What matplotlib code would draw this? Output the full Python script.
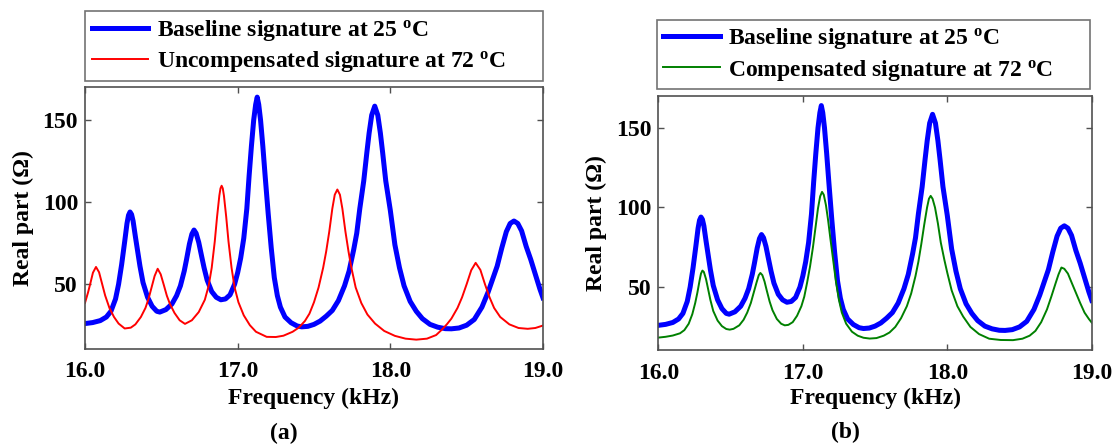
import matplotlib
matplotlib.use("Agg")
import matplotlib.pyplot as plt

plt.rcParams["font.family"] = "Liberation Serif"
plt.rcParams["font.weight"] = "bold"
plt.rcParams["mathtext.fontset"] = "custom"
plt.rcParams["mathtext.rm"] = "Liberation Serif:bold"
plt.rcParams["mathtext.bf"] = "Liberation Serif:bold"
plt.rcParams["mathtext.it"] = "Liberation Serif:bold"

# Baseline signature at 25 C (kHz, Ohm)
freq_base = [16.00, 16.05, 16.10, 16.14, 16.17, 16.20, 16.22, 16.24, 16.26, 16.275, 16.285,
             16.295, 16.305, 16.315, 16.33, 16.345, 16.36, 16.38, 16.41, 16.44, 16.47, 16.49,
             16.53, 16.57, 16.60, 16.625, 16.65, 16.665, 16.684, 16.70, 16.714, 16.728, 16.745,
             16.764, 16.78, 16.80, 16.83, 16.86, 16.89,
             16.92, 16.95, 16.98, 17.00, 17.02, 17.04, 17.06, 17.075, 17.09, 17.105, 17.118,
             17.128, 17.138, 17.15, 17.165, 17.18, 17.20, 17.22, 17.24, 17.26, 17.28, 17.31,
             17.35, 17.39, 17.42,
             17.46, 17.50, 17.54, 17.58, 17.62, 17.66, 17.70, 17.73, 17.76, 17.78, 17.80,
             17.826, 17.846, 17.861, 17.878, 17.898, 17.918, 17.935, 17.95, 17.97, 18.00, 18.03,
             18.06, 18.09, 18.13, 18.17, 18.21, 18.26, 18.31, 18.36, 18.40,
             18.45, 18.50, 18.55, 18.60, 18.64, 18.67, 18.70, 18.73, 18.76, 18.785, 18.81,
             18.835, 18.86, 18.89, 18.92, 18.95, 18.98, 19.00]
z_base = [26.0, 26.6, 27.8, 30.0, 33.5, 41.0, 50.0, 62.0, 76.0, 87.0, 92.0,
          94.0, 92.5, 88.5, 79.0, 70.0, 61.0, 51.0, 42.0, 36.5, 33.5, 33.0,
          34.5, 38.0, 43.0, 49.0, 58.0, 65.0, 74.5, 80.5, 83.0, 81.0, 75.5,
          67.0, 60.0, 52.5, 45.5, 42.0, 40.5,
          41.0, 43.5, 50.0, 57.0, 66.0, 78.0, 96.0, 116.0, 134.0, 150.0, 159.5,
          164.0, 159.5, 150.0, 134.0, 116.0, 93.0, 72.0, 54.0, 43.0, 36.0, 30.0,
          26.5, 24.5, 24.0,
          24.3, 25.5, 27.5, 30.5, 34.0, 40.0, 49.0, 58.0, 71.0, 81.0, 96.0,
          113.0, 130.0, 142.0, 153.0, 158.5, 153.0, 142.0, 130.0, 113.0, 95.0, 74.0,
          60.0, 49.0, 39.5, 33.5, 29.0, 25.5, 23.8, 22.9, 22.8,
          23.3, 25.0, 28.5, 36.0, 45.0, 53.0, 61.0, 72.0, 82.0, 87.0, 88.5,
          87.0, 82.5, 73.0, 65.0, 56.0, 47.0, 41.7]

# Uncompensated signature at 72 C
freq_uncomp = [16.00, 16.02, 16.035, 16.052, 16.072, 16.092, 16.112, 16.132, 16.16, 16.19,
               16.22, 16.26, 16.30, 16.33, 16.366, 16.396, 16.416, 16.436, 16.456, 16.476,
               16.496, 16.516, 16.536, 16.556, 16.586, 16.62, 16.655, 16.70, 16.745, 16.785,
               16.81, 16.83, 16.85, 16.865, 16.88, 16.8875, 16.895, 16.9025, 16.91, 16.925,
               16.94, 16.96, 16.98, 17.005, 17.04, 17.08, 17.12, 17.19, 17.25, 17.30,
               17.36, 17.40, 17.44, 17.47, 17.50, 17.53, 17.56, 17.58, 17.60, 17.62,
               17.636, 17.653, 17.67, 17.686, 17.706, 17.726, 17.745, 17.773, 17.81, 17.85,
               17.90, 17.96, 18.03, 18.10, 18.17, 18.24, 18.30, 18.34, 18.37, 18.40,
               18.44, 18.47, 18.50, 18.53, 18.559, 18.59, 18.62, 18.65, 18.68, 18.72,
               18.78, 18.84, 18.90, 18.95, 19.00]
z_uncomp = [38.6, 45.0, 50.5, 57.0, 60.5, 57.3, 50.2, 43.1, 35.5, 30.0,
            26.0, 23.0, 23.5, 25.5, 30.0, 35.5, 41.0, 48.0, 55.0, 59.4,
            56.0, 49.6, 43.0, 38.0, 32.5, 28.0, 25.8, 28.0, 33.0, 40.5,
            49.0, 60.0, 76.0, 91.0, 104.0, 108.4, 110.0, 108.4, 104.0, 91.0,
            76.0, 60.0, 48.0, 39.0, 31.0, 25.0, 21.0, 17.9, 17.8, 18.6,
            21.0, 23.5, 27.5, 32.0, 39.0, 48.0, 60.0, 70.0, 82.0, 96.0,
            104.5, 107.7, 104.5, 96.0, 82.0, 70.0, 60.0, 48.0, 38.5, 31.5,
            26.0, 21.5, 18.5, 16.8, 16.2, 16.8, 19.0, 22.5, 25.5, 29.0,
            35.5, 42.0, 50.0, 58.5, 63.0, 58.7, 50.0, 42.0, 35.5, 30.0,
            25.5, 23.3, 22.8, 23.3, 24.8]

# Compensated signature at 72 C
freq_comp = [16.00, 16.05, 16.10, 16.15, 16.18, 16.21, 16.235, 16.255, 16.27, 16.285,
             16.295, 16.305, 16.315, 16.33, 16.345, 16.36, 16.38, 16.41, 16.44, 16.47,
             16.494, 16.52, 16.56, 16.59, 16.615, 16.64, 16.66, 16.68, 16.695, 16.706,
             16.72, 16.735, 16.75, 16.77, 16.79, 16.82, 16.85, 16.875, 16.90, 16.93,
             16.96, 16.99, 17.01, 17.03, 17.05, 17.07, 17.09, 17.105, 17.12, 17.133,
             17.145, 17.16, 17.175, 17.19, 17.21, 17.23, 17.25, 17.27, 17.30, 17.34,
             17.38, 17.42, 17.463, 17.51, 17.56, 17.60, 17.64, 17.68, 17.72, 17.75,
             17.78, 17.80, 17.82, 17.84, 17.86, 17.873, 17.885, 17.898, 17.915, 17.935,
             17.955, 17.98, 18.00, 18.03, 18.07, 18.11, 18.16, 18.22, 18.29, 18.37,
             18.455, 18.52, 18.57, 18.61, 18.65, 18.69, 18.72, 18.75, 18.77, 18.79,
             18.81, 18.835, 18.86, 18.89, 18.92, 18.95, 18.98, 19.00]
z_comp = [18.3, 18.8, 19.6, 21.0, 23.0, 27.0, 33.0, 40.0, 46.5, 54.0,
          58.5, 60.4, 59.5, 55.0, 48.5, 42.0, 35.0, 29.0, 25.5, 23.7,
          23.3, 23.8, 26.0, 29.5, 34.0, 40.0, 46.5, 53.0, 57.5, 58.9,
          57.5, 53.5, 48.0, 41.0, 35.5, 30.0, 27.0, 26.0, 26.3, 28.0,
          32.0, 38.0, 44.0, 53.0, 63.0, 75.0, 89.0, 99.5, 107.0, 109.8,
          108.0, 101.5, 92.0, 81.0, 67.0, 53.0, 42.0, 34.0, 27.0, 22.0,
          19.5, 18.2, 17.7, 18.0, 19.5, 21.5, 25.0, 30.5, 38.0, 46.0,
          57.0, 66.0, 77.0, 89.0, 100.0, 105.5, 107.3, 105.5, 100.0, 90.0,
          78.0, 67.0, 59.0, 48.0, 38.0, 31.5, 25.0, 20.5, 17.6, 16.8,
          16.7, 17.6, 19.5, 22.5, 28.0, 36.0, 44.0, 52.5, 58.0, 62.3,
          61.5, 58.5, 53.0, 46.5, 40.0, 34.0, 30.0, 27.7]

x_ticks = [16.0, 17.0, 18.0, 19.0]
y_ticks = [50, 100, 150]

FS = 17
EDGE = "#505050"
DEG = r"$^{\rm o}$C"


def style_axes(ax):
    ax.set_xlim(16.0, 19.0)
    ax.set_ylim(10.5, 170)
    ax.set_xticks(x_ticks)
    ax.set_xticklabels([f"{t:.1f}" for t in x_ticks])
    ax.set_yticks(y_ticks)
    ax.tick_params(direction="in", length=4, width=1, colors=EDGE, labelcolor="black",
                   labelsize=FS, top=True, right=True)
    ax.tick_params(axis="x", pad=9)
    ax.tick_params(axis="y", pad=5)
    for s in ax.spines.values():
        s.set_color(EDGE)
        s.set_linewidth(1.2)
    ax.set_xlabel("Frequency (kHz)", fontsize=FS, fontweight="bold")
    ax.set_ylabel("Real part (\u03a9)", fontsize=FS, fontweight="bold")
    ax.xaxis.label.set_va("center")
    ax.yaxis.label.set_va("center")
    ax.yaxis.label.set_ha("center")


def add_legend(fig, handles, labels, box):
    leg = fig.legend(handles, labels, loc="lower left", bbox_to_anchor=box,
                     bbox_transform=fig.transFigure, mode="expand", ncol=1,
                     fontsize=FS, frameon=True, fancybox=False, borderpad=0.28,
                     labelspacing=0.27, handlelength=2.4, handletextpad=0.35,
                     borderaxespad=0.0)
    leg.get_frame().set_edgecolor(EDGE)
    leg.get_frame().set_linewidth(1.2)
    for t in leg.get_texts():
        t.set_fontweight("bold")
    return leg


fig = plt.figure(figsize=(11.17, 4.46), dpi=100)

# (a) baseline vs uncompensated
ax1 = fig.add_axes([0.0761, 0.2175, 0.4100, 0.5868])
b1, = ax1.plot(freq_base, z_base, color="#0000ff", lw=3.6, solid_joinstyle="round")
r1, = ax1.plot(freq_uncomp, z_uncomp, color="#ff0000", lw=1.4, solid_joinstyle="round")
style_axes(ax1)
ax1.xaxis.set_label_coords(0.5, -49 / 261.7)
ax1.yaxis.set_label_coords(-62 / 458, 0.5)
add_legend(fig, [b1, r1],
           ["Baseline signature at 25 " + DEG, "Uncompensated signature at 72 " + DEG],
           (0.0761, 0.8184, 0.4100, 0.1592))
fig.text(284 / 1117, 1 - 433 / 446, "(a)", ha="center", va="center",
         fontsize=FS, fontweight="bold")

# (b) baseline vs compensated
ax2 = fig.add_axes([0.5894, 0.2152, 0.3880, 0.5695])
b2, = ax2.plot(freq_base, z_base, color="#0000ff", lw=3.6, solid_joinstyle="round")
g2, = ax2.plot(freq_comp, z_comp, color="#008000", lw=1.4, solid_joinstyle="round")
style_axes(ax2)
ax2.xaxis.set_label_coords(0.5, -48 / 254)
ax2.yaxis.set_label_coords(-62 / 433.4, 0.5)
add_legend(fig, [b2, g2],
           ["Baseline signature at 25 " + DEG, "Compensated signature at 72 " + DEG],
           (0.5878, 0.7998, 0.3876, 0.1582))
fig.text(845 / 1117, 1 - 432 / 446, "(b)", ha="center", va="center",
         fontsize=FS, fontweight="bold")

fig.savefig("out.png", dpi=100)
